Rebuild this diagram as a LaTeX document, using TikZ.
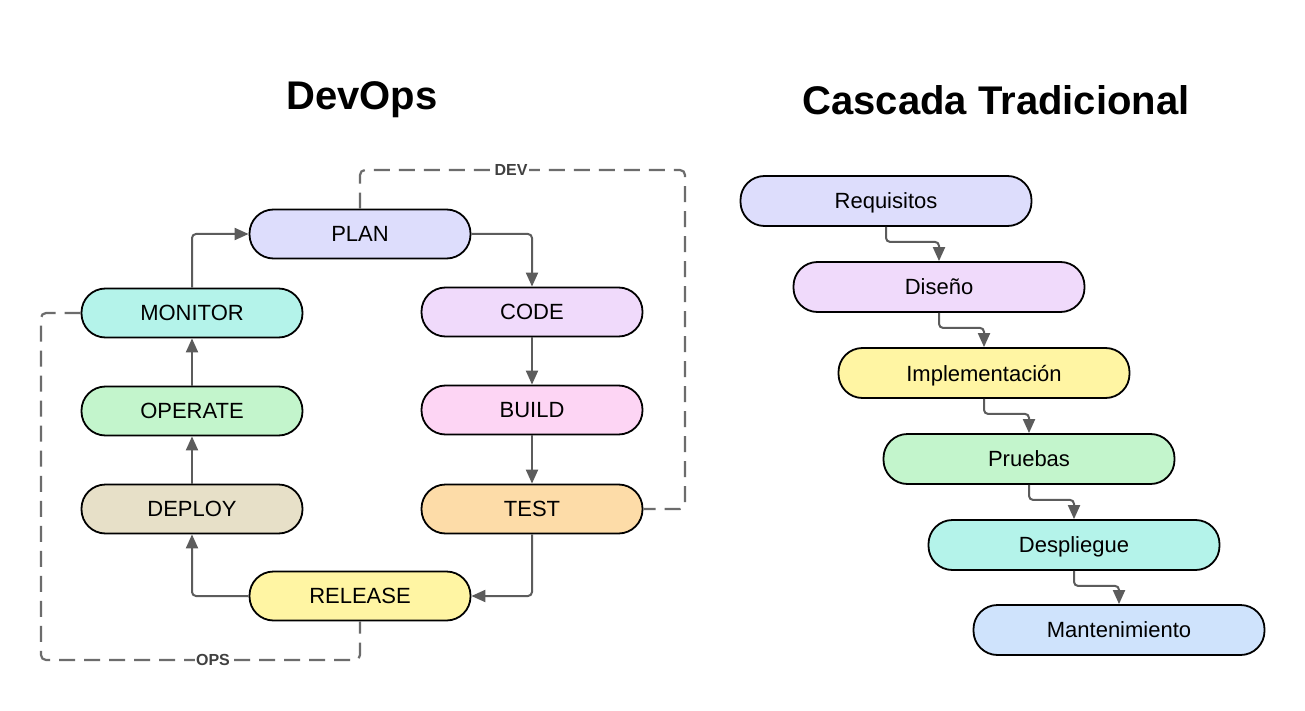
\documentclass[tikz,border=0pt]{standalone}
\usepackage{fontspec}
\setmainfont{Liberation Sans}
\usetikzlibrary{arrows.meta}

\definecolor{planc}{HTML}{DDDDFC}
\definecolor{codec}{HTML}{F0DAFB}
\definecolor{buildc}{HTML}{FDD5F4}
\definecolor{testc}{HTML}{FDDCA8}
\definecolor{releasec}{HTML}{FFF5A3}
\definecolor{deployc}{HTML}{E7E0C8}
\definecolor{operatec}{HTML}{C3F5CC}
\definecolor{monitorc}{HTML}{B4F3EA}
\definecolor{maintc}{HTML}{CFE3FC}
\definecolor{linec}{HTML}{5C5C5C}

\begin{document}
\begin{tikzpicture}[x=1pt, y=-1pt]
    \tikzstyle{phase} = [shape=rectangle, rounded corners=24pt, draw=black, line width=1.8pt, minimum width=221pt, minimum height=49pt, text depth=0pt, font=\fontsize{22}{25}\selectfont]
    \tikzstyle{stage} = [phase, minimum width=291pt, minimum height=50pt]
    \tikzstyle{flow} = [draw=linec, line width=2pt, rounded corners=4pt, -{Triangle[length=14pt, width=12pt]}]
    \tikzstyle{loop} = [draw=linec!90, line width=2.2pt, rounded corners=5pt, dash pattern=on 16pt off 9pt]
    \tikzstyle{tag} = [fill=white, inner sep=1.5pt, text=black!75, font=\bfseries\fontsize{16}{18}\selectfont]
    \tikzstyle{title} = [font=\bfseries\fontsize{40}{44}\selectfont]

    \useasboundingbox [fill=white] (0,0) rectangle (1305,711);

    % DevOps loop
    \node (devops) [title] at (362,100) {DevOps};
    \node (plan) [phase, fill=planc] at (360,234) {PLAN};
    \node (monitor) [phase, fill=monitorc] at (192,313) {MONITOR};
    \node (operate) [phase, fill=operatec, node distance=98pt] [below of = monitor] {OPERATE};
    \node (deploy) [phase, fill=deployc, node distance=98pt] [below of = operate] {DEPLOY};
    \node (code) [phase, fill=codec] at (532,312) {CODE};
    \node (build) [phase, fill=buildc, node distance=98pt] [below of = code] {BUILD};
    \node (test) [phase, fill=testc, node distance=99pt] [below of = build] {TEST};
    \node (release) [phase, fill=releasec] at (360,596) {RELEASE};

    \draw [flow] (monitor.north) |- (plan.west);
    \draw [flow] (plan.east) -| (code.north);
    \draw [flow] (code.south) -- (build.north);
    \draw [flow] (build.south) -- (test.north);
    \draw [flow] (test.south) |- (release.east);
    \draw [flow] (release.west) -| (deploy.south);
    \draw [flow] (deploy.north) -- (operate.south);
    \draw [flow] (operate.north) -- (monitor.south);

    % dev and ops rings
    \coordinate (devcorner) at (685,170);
    \coordinate (opscorner) at (41,660);
    \draw [loop] (plan.north) |- (devcorner) |- (test.east);
    \draw [loop] (monitor.west) -| (opscorner) -| (release.south);
    \node (dev) [tag] at (511,170) {DEV};
    \node (ops) [tag] at (213,660) {OPS};

    % waterfall
    \node (cascada) [title] at (996,100) {Cascada Tradicional};
    \node (req) [stage, fill=planc] at (886,201) {Requisitos};
    \node (dis) [stage, fill=codec] at (939,287) {Diseño};
    \node (imp) [stage, fill=releasec] at (984,373) {Implementación};
    \node (pru) [stage, fill=operatec] at (1029,459) {Pruebas};
    \node (des) [stage, fill=monitorc] at (1074,545) {Despliegue};
    \node (man) [stage, fill=maintc] at (1119,630) {Mantenimiento};

    \draw [flow] (req.south) -- ++(0,15) -| (dis.north);
    \draw [flow] (dis.south) -- ++(0,15) -| (imp.north);
    \draw [flow] (imp.south) -- ++(0,15) -| (pru.north);
    \draw [flow] (pru.south) -- ++(0,15) -| (des.north);
    \draw [flow] (des.south) -- ++(0,15) -| (man.north);
\end{tikzpicture}
\end{document}
